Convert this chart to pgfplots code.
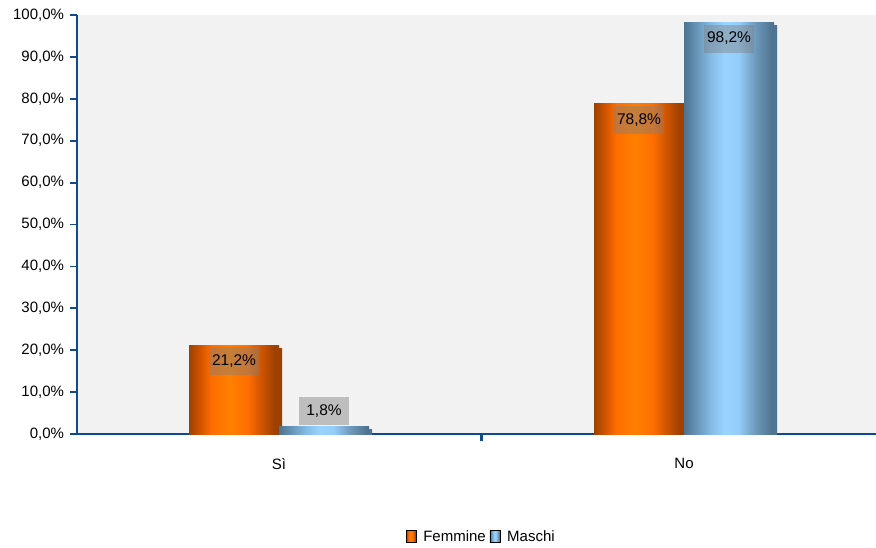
\documentclass[border=0pt]{standalone}
\usepackage{pgfplots}
\pgfplotsset{compat=1.18}
\usepackage{fontspec}
\setmainfont{Liberation Sans}
\usetikzlibrary{shadows}
\definecolor{axblue}{HTML}{0E4A8C}
\definecolor{bgcol}{HTML}{F2F2F2}
\pgfdeclarehorizontalshading{orangebar}{100bp}{color(0bp)=(rgb,255:red,156;green,66;blue,0); color(25bp)=(rgb,255:red,156;green,66;blue,0); color(30bp)=(rgb,255:red,200;green,80;blue,0); color(37.5bp)=(rgb,255:red,255;green,110;blue,0); color(47.5bp)=(rgb,255:red,255;green,127;blue,0); color(57.5bp)=(rgb,255:red,255;green,110;blue,0); color(65bp)=(rgb,255:red,208;green,85;blue,0); color(72.5bp)=(rgb,255:red,158;green,64;blue,0); color(100bp)=(rgb,255:red,158;green,64;blue,0)}
\pgfdeclarehorizontalshading{bluebar}{100bp}{color(0bp)=(rgb,255:red,78;green,115;blue,144); color(25bp)=(rgb,255:red,78;green,115;blue,144); color(40bp)=(rgb,255:red,132;green,188;blue,230); color(47.5bp)=(rgb,255:red,153;green,211;blue,255); color(55bp)=(rgb,255:red,150;green,206;blue,251); color(65bp)=(rgb,255:red,108;green,151;blue,184); color(75bp)=(rgb,255:red,76;green,111;blue,140); color(100bp)=(rgb,255:red,76;green,111;blue,140)}
\pgfplotsset{
  fem/.style={draw=none, shading=orangebar, bar shift=-45pt, forget plot,
    drop shadow={shadow xshift=3pt, shadow yshift=-3pt, fill=gray!40, opacity=1}},
  mas/.style={draw=none, shading=bluebar, bar shift=45pt, forget plot,
    drop shadow={shadow xshift=3pt, shadow yshift=-3pt, fill=gray!40, opacity=1}},
}
\begin{document}
\begin{tikzpicture}[x=1pt,y=1pt]
\path[use as bounding box] (0,0) rectangle (876,547);
\begin{axis}[
  at={(77pt,113pt)}, anchor=south west,
  scale only axis, width=799pt, height=419pt,
  ybar, bar width=90pt,
  xmin=-0.4988, xmax=1.474, ymin=0, ymax=100,
  axis x line=bottom, axis y line=left,
  axis line style={-, draw=axblue, line width=1.6pt},
  axis background/.style={fill=bgcol},
  clip=true,
  ytick={0,10,...,100},
  yticklabels={{0,0\%},{10,0\%},{20,0\%},{30,0\%},{40,0\%},{50,0\%},{60,0\%},{70,0\%},{80,0\%},{90,0\%},{100,0\%}},
  tick align=outside, major tick length=6.5pt,
  xtick style={draw=axblue, line width=2.2pt},
  ytick style={draw=axblue, line width=1.8pt},
  xtick={0.5}, xticklabels={},
  extra x ticks={0,1}, extra x tick labels={S\`i,No},
  extra x tick style={major tick length=0pt, tick style={draw=none}, xticklabel style={yshift=-21pt}},
  ticklabel style={font=\fontsize{15}{18}\selectfont, text=black},
  yticklabel style={xshift=-3pt},
  nodes near coords,
  point meta=explicit symbolic,
  every node near coord/.append style={font=\fontsize{15.5}{18}\selectfont, text=black, anchor=center, yshift=-16pt,
     fill=gray, fill opacity=0.45, text opacity=1, minimum width=50pt, minimum height=28pt, inner sep=0pt},
  legend style={at={(0.506,-0.246)}, anchor=center, draw=none, fill=none, legend columns=2,
     font=\fontsize{15}{18}\selectfont,
     /tikz/every odd column/.append style={column sep=5pt},
     /tikz/every even column/.append style={column sep=2pt}},
]
\addlegendimage{legend image code/.code={\path[shading=orangebar] (0pt,-5pt) rectangle (10pt,7pt);}}
\addlegendentry{Femmine}
\addlegendimage{legend image code/.code={\path[shading=bluebar] (0pt,-5pt) rectangle (10pt,7pt);}}
\addlegendentry{Maschi}
\addplot[fem] coordinates {(0,21.2) [{21,2\%}]};
\addplot[mas, every node near coord/.append style={yshift=31pt}] coordinates {(0,1.8) [{1,8\%}]};
\addplot[fem] coordinates {(1,78.8) [{78,8\%}]};
\addplot[mas] coordinates {(1,98.2) [{98,2\%}]};
\end{axis}
\end{tikzpicture}
\end{document}
